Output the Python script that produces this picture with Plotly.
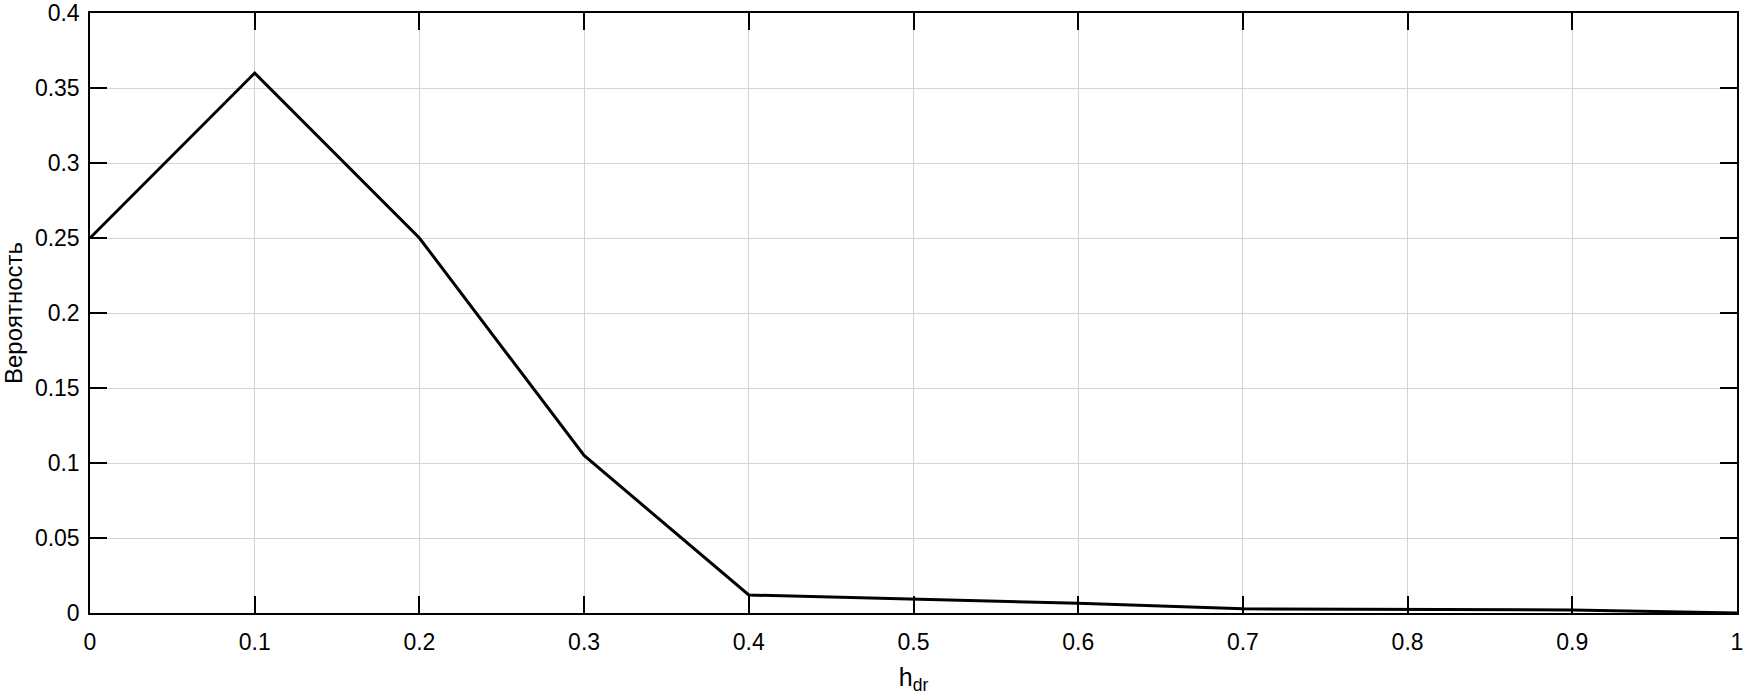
import plotly.graph_objects as go

h_dr = [0.0, 0.1, 0.2, 0.3, 0.4, 0.5, 0.6, 0.7, 0.8, 0.9, 1.0]
probability = [0.25, 0.36, 0.25, 0.105, 0.012, 0.009, 0.0065, 0.0028, 0.0025, 0.002, 0.0]

x_tick_vals = [0, 0.1, 0.2, 0.3, 0.4, 0.5, 0.6, 0.7, 0.8, 0.9, 1]
x_tick_text = ["0", "0.1", "0.2", "0.3", "0.4", "0.5", "0.6", "0.7", "0.8", "0.9", "1"]
y_tick_vals = [0, 0.05, 0.1, 0.15, 0.2, 0.25, 0.3, 0.35, 0.4]
y_tick_text = ["0", "0.05", "0.1", "0.15", "0.2", "0.25", "0.3", "0.35", "0.4"]

FONT = "Liberation Sans, Arial, sans-serif"

fig = go.Figure()
fig.add_trace(go.Scatter(
    x=h_dr, y=probability, mode="lines",
    line=dict(color="black", width=3),
    showlegend=False, cliponaxis=True,
))

axis_common = dict(
    showline=True, linecolor="black", linewidth=1.5, mirror="ticks",
    ticks="inside", ticklen=17, tickwidth=1.5, tickcolor="black",
    showgrid=True, gridcolor="#d4d4d4", gridwidth=1,
    zeroline=False, automargin=False,
    tickfont=dict(family=FONT, size=23, color="black"),
)

fig.update_xaxes(
    range=[0, 1], tickvals=x_tick_vals, ticktext=x_tick_text,
    ticklabelstandoff=8,
    title=dict(text="h<sub>dr</sub>", font=dict(family=FONT, size=25, color="black"), standoff=14),
    **axis_common,
)
fig.update_yaxes(
    range=[0, 0.4], tickvals=y_tick_vals, ticktext=y_tick_text,
    ticklabelstandoff=4,
    title=dict(text="Вероятность", font=dict(family=FONT, size=24, color="black"), standoff=5),
    **axis_common,
)

fig.update_layout(
    width=1756, height=699,
    margin=dict(l=90, r=19, t=13, b=86),
    plot_bgcolor="white", paper_bgcolor="white",
    font=dict(family=FONT, color="black"),
)

fig.write_html("out.html", config={"displayModeBar": False},
               post_script="document.body.style.margin='0';")
